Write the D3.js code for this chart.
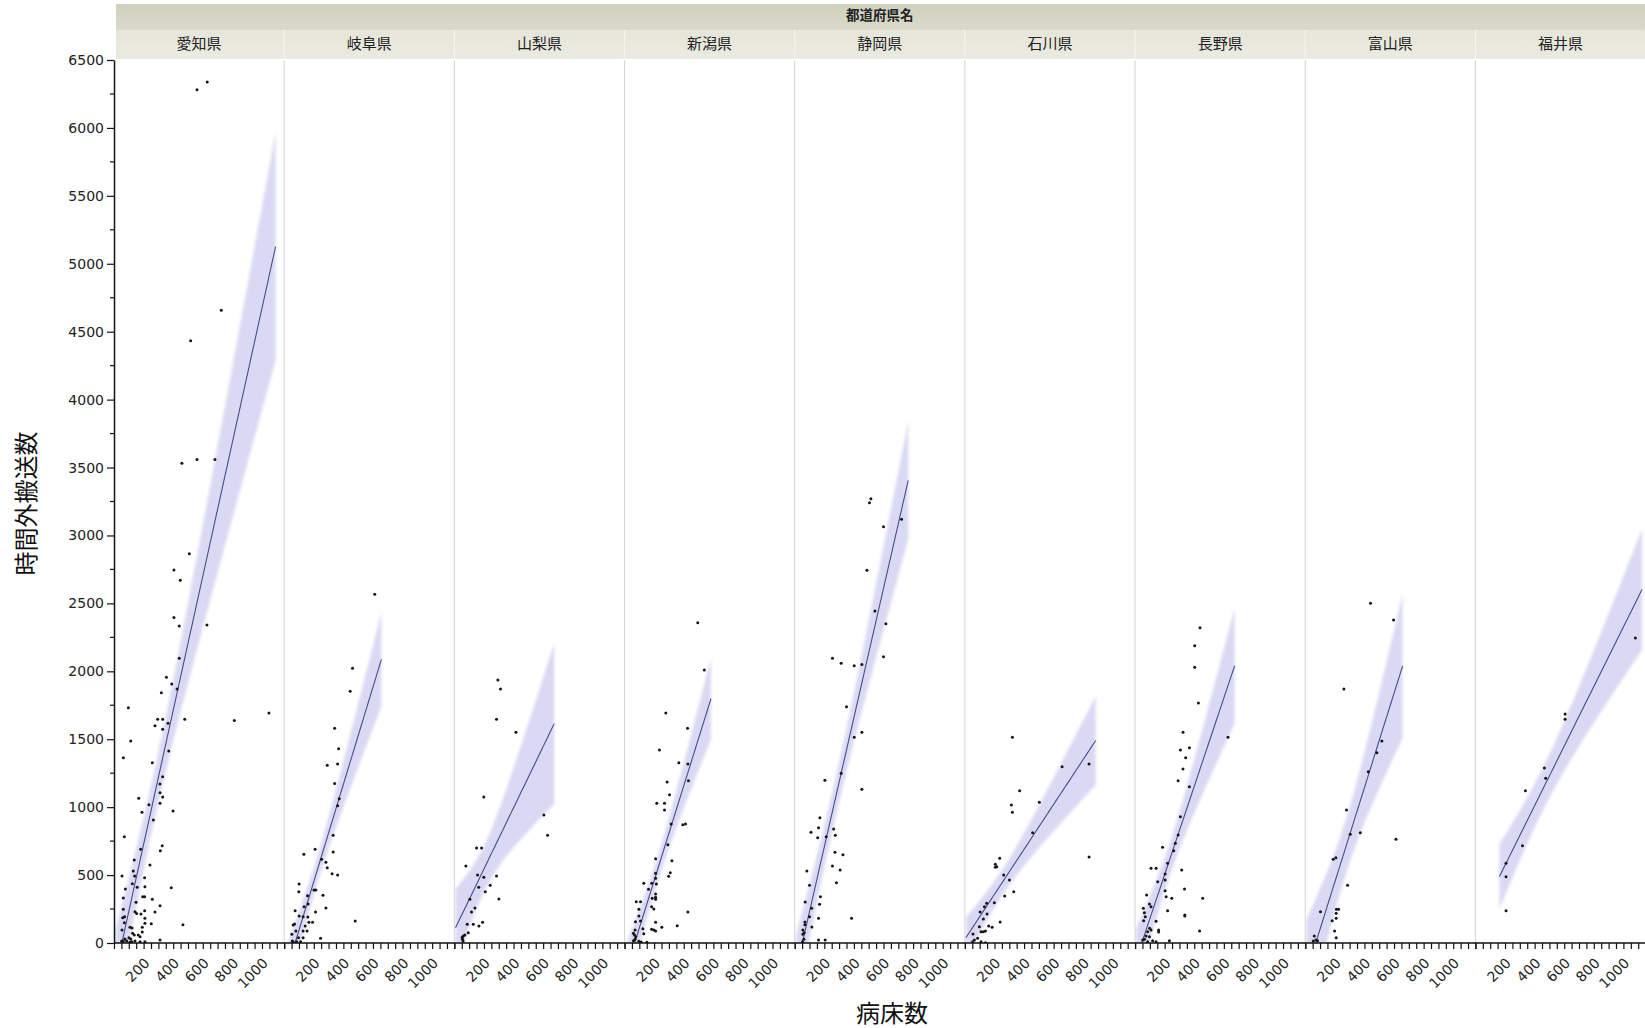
<!DOCTYPE html>
<html>
<head>
<meta charset="utf-8">
<script src="https://cdn.jsdelivr.net/npm/d3@7"></script>
<style>
  body { margin: 0; background: #fff; }
  svg { display: block; }
</style>
</head>
<body>
<svg id="chart" width="1645" height="1028"></svg>
<script>
// Panel categories (prefectures) in display order
const prefectures = ["愛知県", "岐阜県", "山梨県", "新潟県", "静岡県", "石川県", "長野県", "富山県", "福井県"];

// [病床数, 時間外搬送数] per hospital, one array per prefecture
const aichi = [[580,6338],[511,6281],[675,4657],[468,4434],[409,3531],[511,3560],[632,3560],[459,2866],[355,2746],[398,2670],[355,2397],[391,2333],[578,2341],[391,2096],[304,1956],[340,1906],[376,1870],[270,1842],[47,1732],[763,1637],[997,1693],[245,1647],[279,1647],[227,1600],[279,1573],[315,1617],[428,1647],[63,1487],[13,1364],[209,1327],[320,1413],[279,1224],[261,1170],[261,1106],[279,1075],[261,1028],[117,1065],[186,1018],[139,962],[349,972],[216,905],[20,783],[130,690],[276,716],[263,679],[87,611],[193,574],[4,493],[80,530],[90,493],[157,481],[74,437],[107,410],[159,414],[27,397],[337,407],[13,331],[144,341],[157,341],[209,322],[99,300],[13,248],[157,238],[92,230],[103,218],[227,228],[261,275],[132,213],[9,186],[22,194],[159,182],[20,149],[159,145],[202,142],[416,135],[4,96],[58,116],[72,110],[141,116],[141,81],[76,71],[87,59],[114,59],[126,46],[51,39],[63,29],[24,29],[2,15],[13,15],[36,15],[92,15],[126,10],[159,10],[261,22],[5,10],[58,5],[70,10]];
const gifu = [[412,2022],[396,1853],[291,1580],[318,1430],[241,1308],[311,1318],[291,1175],[322,1062],[311,1011],[281,793],[281,670],[159,690],[83,653],[203,616],[232,594],[241,554],[274,510],[311,501],[51,434],[49,378],[151,390],[164,390],[212,351],[108,348],[112,287],[232,258],[85,267],[24,238],[162,228],[51,199],[78,194],[110,191],[20,140],[11,132],[92,125],[117,152],[142,152],[430,162],[29,88],[78,88],[105,88],[2,64],[196,35],[47,39],[78,39],[5,15],[11,10],[34,10],[61,10],[562,2568]];
const yamanashi = [[244,1936],[262,1870],[235,1647],[366,1551],[149,1075],[555,942],[580,793],[100,699],[134,699],[28,567],[107,501],[149,484],[235,493],[192,425],[115,410],[159,378],[55,322],[251,324],[89,258],[66,228],[141,152],[37,138],[78,138],[116,125],[44,76],[10,52],[3,42],[21,59],[5,27],[9,15]];
const niigata = [[445,2358],[489,2010],[229,1693],[376,1580],[186,1421],[317,1327],[378,1318],[382,1195],[238,1185],[254,1092],[168,1028],[220,1028],[220,979],[265,876],[344,871],[362,876],[243,724],[160,620],[270,606],[160,513],[259,518],[248,491],[160,476],[165,434],[80,439],[134,439],[112,395],[160,361],[160,336],[160,322],[137,329],[29,304],[58,304],[133,267],[148,250],[47,248],[378,228],[47,199],[58,162],[160,152],[24,157],[202,116],[306,127],[133,101],[148,96],[160,88],[74,105],[21,96],[10,71],[17,59],[26,46],[80,68],[47,12],[63,7],[101,5],[10,17],[21,27]];
const shizuoka = [[465,3271],[455,3241],[672,3119],[550,3065],[438,2744],[492,2444],[566,2350],[550,2108],[205,2096],[264,2059],[352,2041],[404,2051],[300,1740],[404,1551],[352,1514],[264,1249],[154,1198],[404,1131],[120,922],[111,849],[60,815],[105,775],[213,839],[224,793],[163,783],[222,668],[276,650],[205,567],[257,537],[32,530],[232,444],[50,425],[124,341],[21,302],[118,285],[64,255],[50,194],[111,182],[334,182],[19,155],[19,135],[66,118],[5,96],[14,76],[5,64],[111,22],[156,22],[3,10],[12,27]];
const ishikawa = [[271,1514],[320,1121],[264,1016],[271,962],[453,1036],[607,1298],[789,1318],[789,633],[408,812],[185,623],[156,579],[165,562],[156,557],[212,501],[251,464],[280,378],[219,346],[149,297],[188,155],[97,292],[82,267],[53,228],[100,213],[75,177],[111,125],[134,116],[48,120],[59,83],[75,83],[89,88],[5,66],[36,35],[14,22],[3,10],[2,2],[59,10],[89,2]];
const nagano = [[389,2321],[353,2189],[353,2029],[378,1767],[578,1514],[274,1551],[256,1421],[317,1438],[292,1364],[274,1281],[241,1195],[317,1151],[256,930],[241,795],[222,734],[211,679],[136,704],[170,587],[58,550],[92,550],[265,537],[153,508],[103,451],[153,464],[284,397],[153,385],[28,353],[160,341],[198,329],[407,329],[47,287],[58,267],[170,238],[286,206],[286,199],[6,255],[13,223],[19,194],[8,164],[92,160],[49,108],[58,96],[35,83],[109,96],[109,81],[386,88],[24,52],[47,46],[2,22],[13,27],[69,17],[92,10],[35,10],[182,17]];
const toyama = [[391,2501],[547,2378],[211,1870],[468,1487],[434,1401],[376,1261],[229,979],[254,800],[322,812],[563,763],[139,616],[157,628],[236,425],[53,230],[161,248],[175,248],[159,219],[132,164],[159,182],[148,88],[159,39],[11,52],[22,22],[33,17],[4,15]];
const fukui = [[1031,2245],[556,1686],[556,1647],[416,1288],[425,1212],[288,1121],[268,716],[157,587],[157,488],[157,238]];

const seriesByPrefecture = [aichi, gifu, yamanashi, niigata, shizuoka, ishikawa, nagano, toyama, fukui];

// Axis ticks and titles
const yTickValues = d3.range(0, 6501, 500);
const yMinorValues = d3.range(250, 6500, 500);
const xTickValues = d3.range(-50, 1101, 50);
const xTickLabels = [200, 400, 600, 800, 1000];
const xDomain = [-50, 1100];
const yDomain = [0, 6500];
const headerTitle = "都道府県名";
const xTitle = "病床数";
const yTitle = "時間外搬送数";

// Layout
const plotLeft = 114, plotRight = 1645.6, plotTop = 60, plotBottom = 943;
const nPanels = prefectures.length;
const panelW = (plotRight - plotLeft) / nPanels;

const svg = d3.select("#chart");
const defs = svg.append("defs");

const hdrGrad = defs.append("linearGradient").attr("id", "hdrTop").attr("x1", 0).attr("y1", 0).attr("x2", 0).attr("y2", 1);
hdrGrad.append("stop").attr("offset", "0%").attr("stop-color", "#d0d0be");
hdrGrad.append("stop").attr("offset", "100%").attr("stop-color", "#dadacb");
const hdrGrad2 = defs.append("linearGradient").attr("id", "hdrRow").attr("x1", 0).attr("y1", 0).attr("x2", 0).attr("y2", 1);
hdrGrad2.append("stop").attr("offset", "0%").attr("stop-color", "#e5e5d9");
hdrGrad2.append("stop").attr("offset", "100%").attr("stop-color", "#ebebe1");

defs.append("filter").attr("id", "soft").attr("x", "-10%").attr("y", "-10%").attr("width", "120%").attr("height", "120%")
  .append("feGaussianBlur").attr("stdDeviation", 1.8);

const y = d3.scaleLinear().domain(yDomain).range([plotBottom, plotTop]);

// Student t quantile (0.975) approximation
function tQuantile(df) {
  return 1.95996 + 2.37227 / df + 2.82217 / (df * df) + 2.5 / (df * df * df);
}

// Least-squares line with 95% confidence band of the mean
function linearFit(pts) {
  const n = pts.length;
  const mx = d3.mean(pts, d => d[0]);
  const my = d3.mean(pts, d => d[1]);
  let sxx = 0, sxy = 0;
  pts.forEach(([a, b]) => { sxx += (a - mx) ** 2; sxy += (a - mx) * (b - my); });
  const slope = sxy / sxx;
  const icpt = my - slope * mx;
  let sse = 0;
  pts.forEach(([a, b]) => { sse += (b - (icpt + slope * a)) ** 2; });
  const s = Math.sqrt(sse / (n - 2));
  const t = tQuantile(n - 2);
  return {
    predict: xv => icpt + slope * xv,
    half: xv => t * s * Math.sqrt(1 / n + (xv - mx) ** 2 / sxx),
    xmin: d3.min(pts, d => d[0]),
    xmax: d3.max(pts, d => d[0])
  };
}

// Header strips
svg.append("rect").attr("x", plotLeft + 2).attr("y", 4).attr("width", plotRight - plotLeft).attr("height", 26).attr("fill", "url(#hdrTop)");
svg.append("rect").attr("x", plotLeft + 2).attr("y", 30).attr("width", plotRight - plotLeft).attr("height", 29).attr("fill", "url(#hdrRow)");
svg.append("text").attr("x", (plotLeft + plotRight) / 2).attr("y", 19.5)
  .attr("text-anchor", "middle").attr("font-family", "'Noto Sans CJK JP', sans-serif")
  .attr("font-size", 13.5).attr("font-weight", "bold").attr("fill", "#222").text(headerTitle);

// Panels
prefectures.forEach((name, i) => {
  const left = plotLeft + i * panelW;
  const x = d3.scaleLinear().domain(xDomain).range([left, left + panelW]);
  const g = svg.append("g");

  // header cell
  if (i > 0) {
    g.append("line").attr("x1", left).attr("x2", left).attr("y1", 30).attr("y2", 59)
      .attr("stroke", "#f4f4ee").attr("stroke-width", 1.2);
  }
  g.append("text").attr("x", left + panelW / 2).attr("y", 48.5)
    .attr("text-anchor", "middle").attr("font-family", "'Noto Sans CJK JP', sans-serif")
    .attr("font-size", 15).attr("fill", "#222").text(name);

  // panel separator
  if (i > 0) {
    g.append("line").attr("x1", left).attr("x2", left).attr("y1", plotTop).attr("y2", plotBottom)
      .attr("stroke", "#d4d4d4").attr("stroke-width", 1);
  }

  const clipId = "clip" + i;
  defs.append("clipPath").attr("id", clipId).append("rect")
    .attr("x", left).attr("y", plotTop).attr("width", panelW).attr("height", plotBottom - plotTop);

  const pts = seriesByPrefecture[i];
  const f = linearFit(pts);
  const ext = 45;
  const xs = d3.range(60).map(k => (f.xmin - ext) + (f.xmax - f.xmin + 2 * ext) * k / 59);

  const body = g.append("g").attr("clip-path", `url(#${clipId})`);

  body.append("path")
    .datum(xs)
    .attr("d", d3.area().x(d => x(d)).y0(d => y(f.predict(d) - f.half(d))).y1(d => y(f.predict(d) + f.half(d))))
    .attr("fill", "#cfcff0").attr("fill-opacity", 0.8).attr("filter", "url(#soft)");

  body.append("path")
    .datum(xs)
    .attr("d", d3.line().x(d => x(d)).y(d => y(f.predict(d))))
    .attr("fill", "none").attr("stroke", "#4a4a8c").attr("stroke-width", 1.1);

  body.selectAll("circle.pt").data(pts).join("circle").attr("class", "pt")
    .attr("cx", d => x(d[0])).attr("cy", d => y(d[1])).attr("r", 1.5).attr("fill", "#151515");

  // x axis for this panel
  const ax = svg.append("g").attr("transform", `translate(0,${plotBottom})`)
    .call(d3.axisBottom(x).tickValues(xTickValues).tickSize(6).tickSizeOuter(0)
      .tickFormat(d => xTickLabels.includes(d) ? String(d) : ""));
  ax.select(".domain").remove();
  ax.selectAll(".tick line").attr("stroke", "#111").attr("stroke-width", 1.2);
  ax.selectAll(".tick text")
    .attr("font-family", "'DejaVu Sans', Verdana, sans-serif").attr("font-size", 14).attr("fill", "#222")
    .attr("text-anchor", "end").attr("dy", 0).attr("y", 0)
    .attr("transform", "translate(-1,21) rotate(-45)");
});

// Axis lines
svg.append("line").attr("x1", plotLeft).attr("x2", plotRight).attr("y1", plotBottom).attr("y2", plotBottom)
  .attr("stroke", "#111").attr("stroke-width", 1.5);

const yAxis = svg.append("g").attr("transform", `translate(${plotLeft},0)`)
  .call(d3.axisLeft(y).tickValues(yTickValues).tickSize(7).tickSizeOuter(0).tickPadding(3).tickFormat(d3.format("d")));
yAxis.select(".domain").attr("stroke", "#111").attr("stroke-width", 1.5);
yAxis.selectAll(".tick line").attr("stroke", "#111").attr("stroke-width", 1.2);
yAxis.selectAll(".tick text").attr("font-family", "'DejaVu Sans', Verdana, sans-serif")
  .attr("font-size", 14).attr("fill", "#222");

svg.append("g").selectAll("line").data(yMinorValues).join("line")
  .attr("x1", plotLeft - 4).attr("x2", plotLeft).attr("y1", d => y(d)).attr("y2", d => y(d))
  .attr("stroke", "#111").attr("stroke-width", 1.2);

// Titles
svg.append("text").attr("x", 892).attr("y", 1022).attr("text-anchor", "middle")
  .attr("font-family", "'Noto Sans CJK JP', sans-serif").attr("font-size", 24).attr("fill", "#111").text(xTitle);
svg.append("text").attr("transform", `translate(35,${(plotTop + plotBottom) / 2 + 2}) rotate(-90)`)
  .attr("text-anchor", "middle")
  .attr("font-family", "'Noto Sans CJK JP', sans-serif").attr("font-size", 24).attr("fill", "#111").text(yTitle);
</script>
</body>
</html>
